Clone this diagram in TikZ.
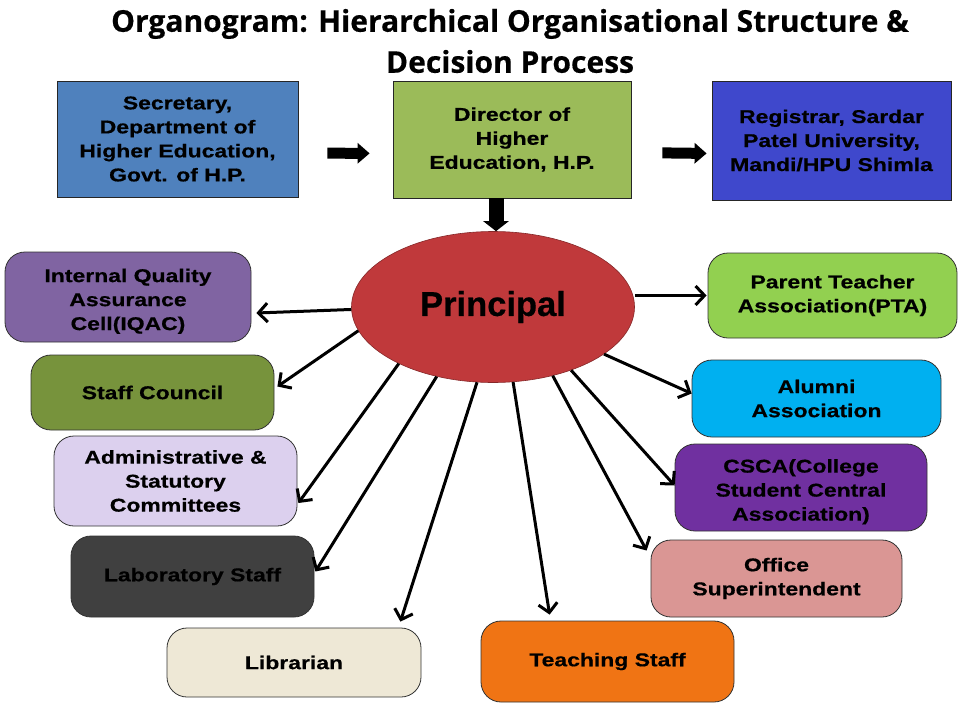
\documentclass[tikz,border=0pt]{standalone}
\usepackage{fontspec}
\setmainfont{Liberation Sans}
\newfontfamily\boxfont[FakeStretch=1.24,FakeBold=0.6]{Liberation Sans}
\newfontfamily\prifont[FakeBold=0.5]{Liberation Sans}
\newfontfamily\titlefont[FakeBold=0.4]{Open Sans}
\usetikzlibrary{shapes.geometric,arrows.meta,calc}
\definecolor{cSec}{HTML}{4F81BD}
\definecolor{cDir}{HTML}{9BBB59}
\definecolor{cReg}{RGB}{63,72,204}
\definecolor{cPri}{RGB}{192,57,59}
\definecolor{cIqac}{HTML}{8064A2}
\definecolor{cStaff}{HTML}{77933C}
\definecolor{cAdm}{HTML}{DCD0EE}
\definecolor{cLab}{HTML}{404040}
\definecolor{cLib}{HTML}{EEE8D6}
\definecolor{cPta}{HTML}{92D050}
\definecolor{cAlum}{HTML}{00B0F0}
\definecolor{cCsca}{HTML}{7030A0}
\definecolor{cOff}{HTML}{DA9694}
\definecolor{cTeach}{HTML}{F07414}
\begin{document}
\begin{tikzpicture}[x=1pt,y=-1pt,
  boxtext/.style={align=center, inner sep=0pt, text=black,
    font=\boxfont\bfseries\fontsize{18.5}{24}\selectfont},
  topbox/.style={boxtext, draw=black!85, line width=0.8pt},
  rbox/.style={boxtext, draw=black!80, line width=0.8pt, rounded corners=20pt},
  bigarrow/.style={line width=11pt, -{Triangle[length=12pt,width=20pt]}},
  downarrow/.style={line width=15pt, -{Triangle[length=10pt,width=25pt]}},
  thinarrow/.style={line width=3pt, -{Straight Barb[length=9pt,width=19pt]}}
]
\useasboundingbox (0,0) rectangle (960,720);
\fill[white] (0,0) rectangle (960,720);

\node[align=center, inner sep=0pt, font=\titlefont\bfseries\fontsize{30}{41}\selectfont]
  (title) at (510,41) {Organogram: Hierarchical Organisational Structure \&\\Decision Process};

\node[topbox, fill=cSec, minimum width=241pt, minimum height=116pt] (sec) at (177.5,139)
  {Secretary,\\Department of\\Higher Education,\\Govt. of H.P.};
\node[topbox, fill=cDir, minimum width=238pt, minimum height=117pt] (dir) at (512,139.5)
  {Director of\\Higher\\Education, H.P.};
\node[topbox, fill=cReg, minimum width=239pt, minimum height=119pt] (reg) at (831.5,140.5)
  {Registrar, Sardar\\Patel University,\\Mandi/HPU Shimla};

\node[ellipse, draw=cPri!70!black, line width=0.6pt, fill=cPri, minimum width=283pt, minimum height=151pt,
  inner sep=0pt, font=\prifont\bfseries\fontsize{34.5}{36}\selectfont] (p) at (493,307) {Principal};

\node[rbox, fill=cIqac, minimum width=246pt, minimum height=90pt] (iqac) at (128,297)
  {\rule{0pt}{22pt}Internal Quality\\Assurance\\Cell(IQAC)};
\node[rbox, fill=cStaff, minimum width=243pt, minimum height=75pt] (staff) at (152.5,392.5)
  {Staff Council};
\node[rbox, fill=cAdm, minimum width=243pt, minimum height=90pt] (admin) at (175.5,481)
  {Administrative \&\\Statutory\\Committees};
\node[rbox, fill=cLab, minimum width=243pt, minimum height=81pt] (lab) at (192.5,576.5)
  {Laboratory Staff};
\node[rbox, fill=cLib, minimum width=254pt, minimum height=69pt] (lib) at (294,662.5)
  {Librarian};
\node[rbox, fill=cPta, minimum width=249pt, minimum height=85pt] (pta) at (832.5,295.5)
  {Parent Teacher\\Association(PTA)};
\node[rbox, fill=cAlum, minimum width=249pt, minimum height=77pt] (alum) at (816.5,398.5)
  {Alumni\\Association};
\node[rbox, fill=cCsca, minimum width=252pt, minimum height=87pt] (csca) at (801,487.5)
  {\rule{0pt}{22pt}CSCA(College\\Student Central\\Association)};
\node[rbox, fill=cOff, minimum width=251pt, minimum height=77pt] (office) at (776.5,578.5)
  {Office\\Superintendent};
\node[rbox, fill=cTeach, minimum width=253pt, minimum height=81pt] (teach) at (607.5,661.5)
  {Teaching Staff};

% block arrows
\draw[bigarrow, shorten <=29pt, shorten >=23pt] ($(sec.east)+(0,14)$) -- ($(dir.west)+(0,14)$);
\draw[bigarrow, shorten <=31pt, shorten >=5pt] ($(dir.east)+(0,13)$) -- ($(reg.west)+(0,13)$);
\draw[downarrow] ([xshift=-16pt]dir.south) -- ([xshift=-16pt]dir.south |- p.north);

% thin arrows
\draw[thinarrow] (p.181) -- ($(iqac.east)+(5,16)$);
\draw[thinarrow] (p.190) -- ($(staff.east)+(3,-6)$);
\draw[thinarrow] (p.211) -- ($(admin.east)+(1,22)$);
\draw[thinarrow] (p.231) -- ($(lab.east)+(1,-5)$);
\draw[thinarrow] (p.258) -- ($(lib.north east)+(-21,-6)$);
\draw[thinarrow] (p.285) -- ($(teach.north west)+(69,-6)$);
\draw[thinarrow] (p.311) -- ($(office.west)+(-4,-28)$);
\draw[thinarrow] (p.321) -- ($(csca.west)+(0,-2)$);
\draw[thinarrow] (p.337) -- ($(alum.west)+(0,-5)$);
\draw[thinarrow] (p.east |- pta.west) -- ($(pta.west)+(-1,0)$);
\end{tikzpicture}
\end{document}
